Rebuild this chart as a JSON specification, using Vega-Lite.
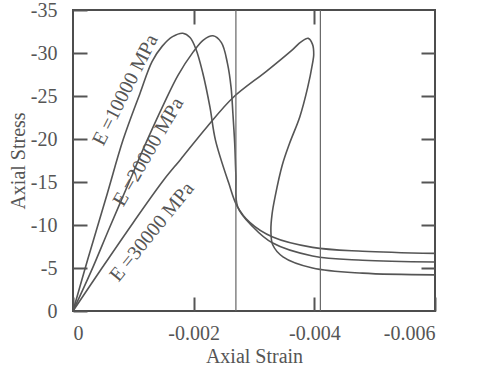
{
  "$schema": "https://vega.github.io/schema/vega-lite/v6.json",
  "width": 362,
  "height": 301,
  "autosize": "none",
  "padding": {"left": 73, "top": 10, "right": 44, "bottom": 58},
  "background": "white",
  "config": {
    "view": {"stroke": "#4d4d4d", "strokeWidth": 2},
    "font": "Liberation Serif",
    "axis": {
      "grid": false,
      "domain": false,
      "tickColor": "#555555",
      "tickWidth": 2,
      "tickSize": -14,
      "labelFont": "Liberation Serif",
      "labelFontSize": 20,
      "labelColor": "#555555",
      "titleFont": "Liberation Serif",
      "titleFontSize": 20,
      "titleFontWeight": "normal",
      "titleColor": "#555555"
    }
  },
  "datasets": {
    "curves": [
      {"curve": "E10000", "i": 0, "strain": 0, "stress": 0},
      {"curve": "E10000", "i": 1, "strain": -0.00024, "stress": -5.9},
      {"curve": "E10000", "i": 2, "strain": -0.00057, "stress": -13.7},
      {"curve": "E10000", "i": 3, "strain": -0.00083, "stress": -19.9},
      {"curve": "E10000", "i": 4, "strain": -0.00111, "stress": -25.3},
      {"curve": "E10000", "i": 5, "strain": -0.00131, "stress": -29.0},
      {"curve": "E10000", "i": 6, "strain": -0.00148, "stress": -30.8},
      {"curve": "E10000", "i": 7, "strain": -0.00165, "stress": -31.9},
      {"curve": "E10000", "i": 8, "strain": -0.00182, "stress": -32.3},
      {"curve": "E10000", "i": 9, "strain": -0.00194, "stress": -31.8},
      {"curve": "E10000", "i": 10, "strain": -0.00204, "stress": -30.4},
      {"curve": "E10000", "i": 11, "strain": -0.00215, "stress": -27.7},
      {"curve": "E10000", "i": 12, "strain": -0.00227, "stress": -23.7},
      {"curve": "E10000", "i": 13, "strain": -0.00236, "stress": -19.9},
      {"curve": "E10000", "i": 14, "strain": -0.00258, "stress": -14.9},
      {"curve": "E10000", "i": 15, "strain": -0.00272, "stress": -12.2},
      {"curve": "E10000", "i": 16, "strain": -0.00293, "stress": -10.3},
      {"curve": "E10000", "i": 17, "strain": -0.00331, "stress": -8.6},
      {"curve": "E10000", "i": 18, "strain": -0.00397, "stress": -7.4},
      {"curve": "E10000", "i": 19, "strain": -0.0048, "stress": -6.95},
      {"curve": "E10000", "i": 20, "strain": -0.006, "stress": -6.7},

      {"curve": "E20000", "i": 0, "strain": 0, "stress": 0},
      {"curve": "E20000", "i": 1, "strain": -0.0003, "stress": -4.6},
      {"curve": "E20000", "i": 2, "strain": -0.0006, "stress": -9.6},
      {"curve": "E20000", "i": 3, "strain": -0.0009, "stress": -14.5},
      {"curve": "E20000", "i": 4, "strain": -0.0012, "stress": -19.4},
      {"curve": "E20000", "i": 5, "strain": -0.0015, "stress": -24.0},
      {"curve": "E20000", "i": 6, "strain": -0.00174, "stress": -27.4},
      {"curve": "E20000", "i": 7, "strain": -0.00199, "stress": -30.1},
      {"curve": "E20000", "i": 8, "strain": -0.00216, "stress": -31.5},
      {"curve": "E20000", "i": 9, "strain": -0.00232, "stress": -32.0},
      {"curve": "E20000", "i": 10, "strain": -0.00246, "stress": -31.2},
      {"curve": "E20000", "i": 11, "strain": -0.00256, "stress": -28.8},
      {"curve": "E20000", "i": 12, "strain": -0.00262, "stress": -26.0},
      {"curve": "E20000", "i": 13, "strain": -0.00265, "stress": -23.0},
      {"curve": "E20000", "i": 14, "strain": -0.00268, "stress": -19.5},
      {"curve": "E20000", "i": 15, "strain": -0.0027, "stress": -15.8},
      {"curve": "E20000", "i": 16, "strain": -0.00273, "stress": -12.1},
      {"curve": "E20000", "i": 17, "strain": -0.00298, "stress": -9.8},
      {"curve": "E20000", "i": 18, "strain": -0.00331, "stress": -7.9},
      {"curve": "E20000", "i": 19, "strain": -0.00397, "stress": -6.4},
      {"curve": "E20000", "i": 20, "strain": -0.0048, "stress": -5.9},
      {"curve": "E20000", "i": 21, "strain": -0.006, "stress": -5.7},

      {"curve": "E30000", "i": 0, "strain": 0, "stress": 0},
      {"curve": "E30000", "i": 1, "strain": -0.0005, "stress": -5.2},
      {"curve": "E30000", "i": 2, "strain": -0.001, "stress": -10.3},
      {"curve": "E30000", "i": 3, "strain": -0.0015, "stress": -15.2},
      {"curve": "E30000", "i": 4, "strain": -0.00178, "stress": -17.6},
      {"curve": "E30000", "i": 5, "strain": -0.00222, "stress": -21.4},
      {"curve": "E30000", "i": 6, "strain": -0.00265, "stress": -24.8},
      {"curve": "E30000", "i": 7, "strain": -0.00321, "stress": -27.9},
      {"curve": "E30000", "i": 8, "strain": -0.00364, "stress": -30.4},
      {"curve": "E30000", "i": 9, "strain": -0.00378, "stress": -31.3},
      {"curve": "E30000", "i": 10, "strain": -0.0039, "stress": -31.7},
      {"curve": "E30000", "i": 11, "strain": -0.00397, "stress": -31.0},
      {"curve": "E30000", "i": 12, "strain": -0.00399, "stress": -29.8},
      {"curve": "E30000", "i": 13, "strain": -0.00397, "stress": -28.8},
      {"curve": "E30000", "i": 14, "strain": -0.00389, "stress": -26.0},
      {"curve": "E30000", "i": 15, "strain": -0.00376, "stress": -22.6},
      {"curve": "E30000", "i": 16, "strain": -0.00359, "stress": -19.5},
      {"curve": "E30000", "i": 17, "strain": -0.00347, "stress": -17.0},
      {"curve": "E30000", "i": 18, "strain": -0.00335, "stress": -13.3},
      {"curve": "E30000", "i": 19, "strain": -0.0033, "stress": -11.3},
      {"curve": "E30000", "i": 20, "strain": -0.00328, "stress": -9.4},
      {"curve": "E30000", "i": 21, "strain": -0.00331, "stress": -7.7},
      {"curve": "E30000", "i": 22, "strain": -0.00348, "stress": -6.3},
      {"curve": "E30000", "i": 23, "strain": -0.00397, "stress": -5.0},
      {"curve": "E30000", "i": 24, "strain": -0.0048, "stress": -4.4},
      {"curve": "E30000", "i": 25, "strain": -0.006, "stress": -4.2}
    ],
    "vlines": [
      {"strain": -0.0027},
      {"strain": -0.0041}
    ],
    "labels": [
      {"label": "E =10000 MPa", "strain": -0.00087, "stress": -25.7},
      {"label": "E =20000 MPa", "strain": -0.00125, "stress": -18.5},
      {"label": "E =30000 MPa", "strain": -0.00131, "stress": -9.2}
    ]
  },
  "layer": [
    {
      "data": {"name": "curves"},
      "mark": {"type": "line", "stroke": "#555555", "strokeWidth": 1.6, "interpolate": "catmull-rom"},
      "encoding": {
        "x": {
          "field": "strain", "type": "quantitative",
          "scale": {"domain": [0, -0.006], "nice": false, "zero": false},
          "axis": {
            "orient": "bottom",
            "title": "Axial Strain",
            "values": [0, -0.002, -0.004, -0.006],
            "labelExpr": "datum.value == 0 ? '0' : '-' + format(abs(datum.value), '.3f')",
            "labelPadding": 26,
            "titlePadding": 3
          }
        },
        "y": {
          "field": "stress", "type": "quantitative",
          "scale": {"domain": [0, -35], "nice": false, "zero": false},
          "axis": {
            "orient": "left",
            "title": "Axial Stress",
            "values": [0, -5, -10, -15, -20, -25, -30, -35],
            "labelExpr": "datum.value == 0 ? '0' : '-' + format(abs(datum.value), 'd')",
            "labelPadding": 30,
            "titlePadding": 2
          }
        },
        "detail": {"field": "curve", "type": "nominal"},
        "order": {"field": "i", "type": "quantitative"}
      }
    },
    {
      "data": {"name": "vlines"},
      "mark": {"type": "rule", "stroke": "#666666", "strokeWidth": 1.2},
      "encoding": {
        "x": {
          "field": "strain", "type": "quantitative",
          "scale": {"domain": [0, -0.006], "nice": false, "zero": false},
          "axis": {"orient": "top", "title": null, "labels": false, "values": [-0.002, -0.004]}
        },
        "y": {
          "datum": 0, "type": "quantitative",
          "scale": {"domain": [0, -35], "nice": false, "zero": false},
          "axis": {"orient": "right", "title": null, "labels": false, "values": [-5, -10, -15, -20, -25, -30]}
        },
        "y2": {"datum": -35}
      }
    },
    {
      "data": {"name": "labels"},
      "transform": [{"filter": "datum.label == 'E =10000 MPa'"}],
      "mark": {"type": "text", "angle": 297, "font": "Liberation Serif", "fontSize": 20, "fill": "#555555", "align": "center", "baseline": "middle"},
      "encoding": {
        "x": {"field": "strain", "type": "quantitative", "axis": null},
        "y": {"field": "stress", "type": "quantitative", "axis": null},
        "text": {"field": "label"}
      }
    },
    {
      "data": {"name": "labels"},
      "transform": [{"filter": "datum.label == 'E =20000 MPa'"}],
      "mark": {"type": "text", "angle": 300, "font": "Liberation Serif", "fontSize": 20, "fill": "#555555", "align": "center", "baseline": "middle"},
      "encoding": {
        "x": {"field": "strain", "type": "quantitative", "axis": null},
        "y": {"field": "stress", "type": "quantitative", "axis": null},
        "text": {"field": "label"}
      }
    },
    {
      "data": {"name": "labels"},
      "transform": [{"filter": "datum.label == 'E =30000 MPa'"}],
      "mark": {"type": "text", "angle": 309, "font": "Liberation Serif", "fontSize": 20, "fill": "#555555", "align": "center", "baseline": "middle"},
      "encoding": {
        "x": {"field": "strain", "type": "quantitative", "axis": null},
        "y": {"field": "stress", "type": "quantitative", "axis": null},
        "text": {"field": "label"}
      }
    }
  ],
  "resolve": {"axis": {"x": "independent", "y": "independent"}}
}
